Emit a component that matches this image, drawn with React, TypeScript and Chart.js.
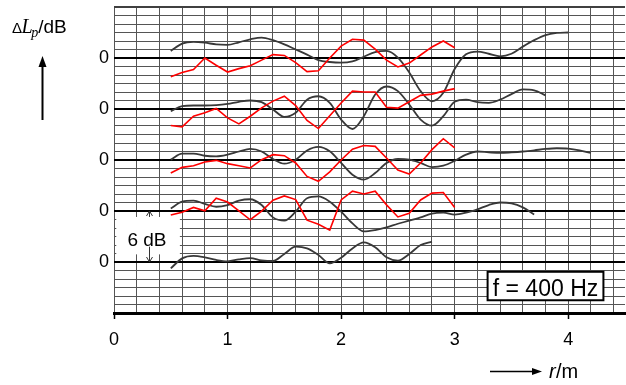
import React, { useEffect, useRef } from 'react';
import { Chart, registerables } from 'chart.js';

Chart.register(...registerables);

// distance r in m (shared sample positions)
const distance = [
  0.5, 0.6, 0.7, 0.8, 0.9, 1.0, 1.1, 1.2, 1.3, 1.4, 1.5, 1.6, 1.7, 1.8, 1.9,
  2.0, 2.1, 2.2, 2.3, 2.4, 2.5, 2.6, 2.7, 2.8, 2.9, 3.0, 3.1, 3.2, 3.3, 3.4,
  3.5, 3.6, 3.7, 3.8, 3.9, 4.0, 4.1, 4.2,
];

// zero levels of the five stacked curves (dB on the hidden axis)
const zeroLevels = [6, 12, 18, 24, 30];
const xTickLabels = ['0', '1', '2', '3', '4'];
const yTickLabel = '0';

// deviations in dB from each zero level
const black1 = [
  -0.75, 0.43, 0.72, 0.55, 0.24, 0.08, 0.31, 0.45, 0.2, 0.12, 0.95, 1.8, 1.6,
  0.83, -0.16, 0.5, 1.6, 2.3, 1.73, 0.55, 0.16, 0.94, 2.0, 2.4,
];
const black2 = [
  0.3, 1.1, 1.22, 0.83, 0.5, 0.7, 1.22, 1.38, 0.7, -0.75, -1.14, -0.08, 1.5,
  1.72, 1.1, -0.08, -1.46, -2.4, -2.24, -1.93, -1.5, -1.14, -0.75, -0.3, -0.2,
  -0.42, -0.2, 0.2, 0.7, 1.0, 0.9, 0.43, -0.4,
];
const red2 = [
  -0.47, -0.15, 0.42, 0.02, 1.5, 1.05, 0.02, -1.03, -0.02, 1.26, 1.77, 1.34,
  -1.08, -1.55, -2.25, 1.3, 2.33, 2.0, 2.33, 0.72, -0.7, -0.27, 1.3, 2.1, 2.17,
  0.42,
];
const black3 = [
  0.04, 0.75, 0.75, 0.5, 0.43, 0.63, 1.0, 1.3, 1.0, 0.12, -0.43, 0.04, 1.12,
  1.54, 1.02, -0.35, -1.73, -2.3, -1.54, -0.35, 0.12, 0.04, -0.35, -0.83, -0.67,
  -0.1, 0.63, 1.0, 0.9, 0.83, 0.9, 1.0, 1.14, 1.3, 1.38, 1.34, 1.14, 0.83,
];
const red3 = [
  -1.54, -0.87, -0.67, -0.24, -0.04, -0.43, -0.67, -0.94, 0.04, 0.63, 0.51,
  -0.35, -1.93, -2.5, -1.4, 0.0, 1.26, 1.7, 1.6, 0.24, -1.18, -1.65, -0.35,
  1.22, 2.5, 1.42,
];
const black4 = [
  -0.26, 0.33, 0.41, 0.41, 0.45, 0.6, 0.85, 1.0, 0.8, -0.06, -0.93, -0.45, 1.1,
  1.5, 0.73, -1.24, -2.35, -0.85, 1.7, 2.65, 2.1, 0.53, -1.24, -1.95, -0.85,
  0.85, 1.1, 0.8, 0.73, 1.1, 1.75, 2.3, 2.2, 1.6,
];
const red4 = [
  -1.95, -2.1, -0.85, -0.45, 0.06, -1.04, -1.75, -0.85, 0.14, 0.93, 1.5, 0.4,
  -1.35, -2.3, -0.8, 0.7, 2.1, 2.0, 2.0, 0.2, 0.1, 0.85, 1.6, 1.75, 2.1, 2.4,
];
const black5 = [
  0.83, 1.7, 1.9, 1.8, 1.6, 1.55, 1.85, 2.2, 2.4, 2.1, 1.6, 1.0, 0.4, -0.25,
  -0.47, -0.55, -0.4, 0.15, 0.7, 0.83, 0.04, -1.7, -3.9, -5.1, -4.1, -1.3,
  0.43, 0.75, 0.5, 0.2, 0.5, 1.34, 2.1, 2.7, 2.95, 3.0,
];
const red5 = [
  -2.2, -1.7, -1.35, 0.0, -0.85, -1.65, -1.25, -0.9, -0.25, 0.4, 0.3, -0.55,
  -1.6, -1.5, 0.0, 1.4, 2.2, 2.1, 1.05, -0.25, -1.05, -0.6, 0.35, 1.3, 2.0, 1.2,
];

const blackSeries = [black1, black2, black3, black4, black5];
const redSeries = [null, red2, red3, red4, red5];

const SANS = '"Liberation Sans", Arial, sans-serif';
const SERIF = '"Liberation Serif", "Times New Roman", serif';

function toPoints(dev: number[], offset: number) {
  return dev.map((v, i) => ({ x: distance[i], y: offset + v }));
}

const annotationPlugin = {
  id: 'annotations',
  beforeDatasetsDraw(chart: any) {
    const { ctx } = chart;
    const x = chart.scales.x;
    const y = chart.scales.y;
    ctx.save();
    // "6 dB" box
    const bx0 = x.getPixelForValue(0.02);
    const bx1 = x.getPixelForValue(0.58);
    const by0 = y.getPixelForValue(11.3);
    const by1 = y.getPixelForValue(6.9);
    ctx.fillStyle = '#fff';
    ctx.fillRect(bx0, by0, bx1 - bx0, by1 - by0);
    // double arrow
    const ax = Math.round(x.getPixelForValue(0.31)) + 0.5;
    const top = y.getPixelForValue(12);
    const bot = y.getPixelForValue(6);
    ctx.strokeStyle = '#333';
    ctx.lineWidth = 1;
    ctx.beginPath();
    ctx.moveTo(ax, top);
    ctx.lineTo(ax, by0);
    ctx.moveTo(ax, y.getPixelForValue(7.8));
    ctx.lineTo(ax, bot);
    ctx.moveTo(ax - 3, top + 5);
    ctx.lineTo(ax, top);
    ctx.lineTo(ax + 3, top + 5);
    ctx.moveTo(ax - 3, bot - 5);
    ctx.lineTo(ax, bot);
    ctx.lineTo(ax + 3, bot - 5);
    ctx.stroke();
    ctx.fillStyle = '#000';
    ctx.font = '19px ' + SANS;
    ctx.textAlign = 'center';
    ctx.textBaseline = 'alphabetic';
    ctx.fillText('6 dB', x.getPixelForValue(0.29), y.getPixelForValue(7.85));
    ctx.restore();
  },
  afterDraw(chart: any) {
    const { ctx } = chart;
    const x = chart.scales.x;
    const y = chart.scales.y;
    ctx.save();
    // frequency box
    const fx0 = x.getPixelForValue(3.29);
    const fx1 = x.getPixelForValue(4.31);
    const fy0 = y.getPixelForValue(4.85);
    const fy1 = y.getPixelForValue(1.5);
    ctx.fillStyle = '#fff';
    ctx.fillRect(fx0, fy0, fx1 - fx0, fy1 - fy0);
    ctx.strokeStyle = '#000';
    ctx.lineWidth = 2;
    ctx.strokeRect(fx0, fy0, fx1 - fx0, fy1 - fy0);
    ctx.fillStyle = '#000';
    ctx.font = '23px ' + SANS;
    ctx.textAlign = 'center';
    ctx.textBaseline = 'alphabetic';
    ctx.fillText('f = 400 Hz', (fx0 + fx1) / 2, y.getPixelForValue(1.95));

    // y-axis title  ΔLp/dB
    ctx.textAlign = 'left';
    let tx = 12;
    ctx.font = '15px ' + SANS;
    ctx.fillText('Δ', tx, 33);
    tx += ctx.measureText('Δ').width - 0.5;
    ctx.font = 'italic 20px ' + SERIF;
    ctx.fillText('L', tx, 33);
    tx += ctx.measureText('L').width - 1.5;
    ctx.font = 'italic 14px ' + SERIF;
    ctx.fillText('p', tx, 37);
    tx += ctx.measureText('p').width;
    ctx.font = '19px ' + SANS;
    ctx.fillText('/dB', tx, 33);

    // up arrow
    ctx.strokeStyle = '#000';
    ctx.lineWidth = 2;
    ctx.beginPath();
    ctx.moveTo(42.5, 120);
    ctx.lineTo(42.5, 64);
    ctx.stroke();
    ctx.beginPath();
    ctx.moveTo(42.5, 56);
    ctx.lineTo(38.5, 67);
    ctx.lineTo(46.5, 67);
    ctx.closePath();
    ctx.fill();

    // right arrow + r/m
    ctx.lineWidth = 1.5;
    ctx.beginPath();
    ctx.moveTo(490, 371.5);
    ctx.lineTo(534, 371.5);
    ctx.stroke();
    ctx.beginPath();
    ctx.moveTo(542, 371.5);
    ctx.lineTo(532, 368);
    ctx.lineTo(532, 375);
    ctx.closePath();
    ctx.fill();
    ctx.font = 'italic 20px ' + SANS;
    ctx.fillText('r', 549, 378);
    ctx.font = '20px ' + SANS;
    ctx.fillText('/m', 556, 378);
    ctx.restore();
  },
};

export default function App() {
  const canvasRef = useRef<HTMLCanvasElement | null>(null);

  useEffect(() => {
    const canvas = canvasRef.current;
    if (!canvas) return;

    const datasets: any[] = [];
    zeroLevels.forEach((lvl, gi) => {
      const red = redSeries[gi];
      if (red) {
        datasets.push({
          data: toPoints(red, lvl),
          borderColor: '#ff0000',
          borderWidth: 1.6,
          pointRadius: 0,
          tension: 0,
          fill: false,
        });
      }
      datasets.push({
        data: toPoints(blackSeries[gi], lvl),
        borderColor: '#383838',
        borderWidth: 1.8,
        pointRadius: 0,
        cubicInterpolationMode: 'monotone',
        fill: false,
      });
    });

    const isInt = (v: number) => Math.abs(v - Math.round(v)) < 1e-6;

    const chart = new Chart(canvas, {
      type: 'line',
      data: { datasets },
      plugins: [annotationPlugin],
      options: {
        animation: false,
        responsive: false,
        events: [],
        layout: { padding: { left: 0, top: 7, right: 1, bottom: 0 } },
        plugins: { legend: { display: false }, tooltip: { enabled: false } },
        scales: {
          x: {
            type: 'linear',
            min: 0,
            max: 4.5,
            afterFit: (s: any) => {
              s.height = 72;
              s.paddingLeft = 0;
              s.paddingRight = 0;
            },
            afterBuildTicks: (s: any) => {
              const t: any[] = [];
              for (let i = 0; i <= 22; i++) t.push({ value: Math.round(i * 2) / 10 });
              s.ticks = t;
            },
            border: { display: true, color: '#000', width: 3 },
            grid: {
              color: '#555',
              lineWidth: 1,
              drawTicks: true,
              tickLength: 6,
              tickColor: (c: any) => (c.tick && isInt(c.tick.value) ? '#000' : 'rgba(0,0,0,0)'),
              tickWidth: 1.5,
            },
            ticks: {
              autoSkip: false,
              maxRotation: 0,
              padding: 10,
              color: '#000',
              font: { family: SANS, size: 18 },
              callback: (v: any) => (isInt(Number(v)) ? xTickLabels[Math.round(Number(v))] : ''),
            },
          },
          y: {
            type: 'linear',
            min: 0,
            max: 36,
            afterFit: (s: any) => {
              s.width = 114;
              s.paddingTop = 0;
              s.paddingBottom = 0;
            },
            afterBuildTicks: (s: any) => {
              const t: any[] = [];
              for (let i = 0; i <= 36; i++) t.push({ value: i });
              s.ticks = t;
            },
            border: { display: false },
            grid: {
              drawTicks: false,
              color: (c: any) => {
                const v = c.tick ? c.tick.value : -1;
                if (zeroLevels.includes(v)) return '#000';
                if (v === 36) return '#404040';
                return '#555';
              },
              lineWidth: (c: any) => {
                const v = c.tick ? c.tick.value : -1;
                if (zeroLevels.includes(v) || v === 36) return 2;
                return 1;
              },
            },
            ticks: {
              autoSkip: false,
              padding: 5,
              color: '#000',
              font: { family: SANS, size: 18 },
              callback: (v: any) => (zeroLevels.includes(Number(v)) ? yTickLabel : ''),
            },
          },
        },
      },
    });

    return () => {
      chart.destroy();
    };
  }, []);

  return (
    <div style={{ position: 'fixed', left: 0, top: 0, width: 626, height: 385, background: '#fff' }}>
      <canvas ref={canvasRef} width={626} height={385} style={{ display: 'block', width: 626, height: 385 }} />
    </div>
  );
}
